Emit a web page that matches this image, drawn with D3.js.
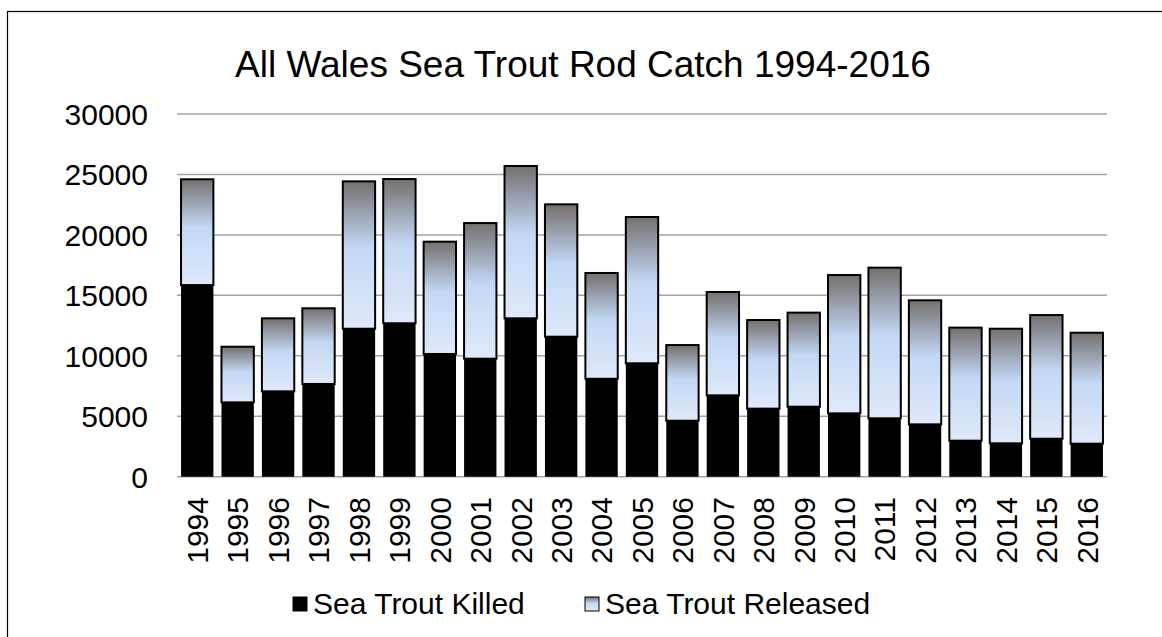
<!DOCTYPE html>
<html>
<head>
<meta charset="utf-8">
<script src="https://cdn.jsdelivr.net/npm/d3@7"></script>
<style>
  body { margin: 0; background: #fff; }
  text { font-family: "Liberation Sans", Arial, sans-serif; fill: #000; }
</style>
</head>
<body>
<div id="chart"></div>
<script>
// data
const years = ["1994","1995","1996","1997","1998","1999","2000","2001","2002","2003","2004","2005",
               "2006","2007","2008","2009","2010","2011","2012","2013","2014","2015","2016"];
const killed = [15850, 6150, 7060, 7670, 12240, 12690, 10150, 9760, 13100, 11580, 8100, 9380,
                4630, 6730, 5630, 5790, 5240, 4830, 4330, 2980, 2760, 3140, 2730];
const totals = [24600, 10750, 13100, 13930, 24430, 24620, 19440, 20980, 25700, 22530, 16850, 21480,
                10890, 15280, 12960, 13570, 16680, 17290, 14590, 12330, 12240, 13370, 11910];
const released = totals.map((t, i) => t - killed[i]);
const yTicks = [0, 5000, 10000, 15000, 20000, 25000, 30000];
const seriesNames = ["Sea Trout Killed", "Sea Trout Released"];

const width = 1162, height = 637;
const margin = {top: 114, right: 55, bottom: 160, left: 177};

const svg = d3.select("#chart").append("svg")
    .attr("width", width)
    .attr("height", height);

// gradient for the released series
let defs = svg.append("defs");
let grad = defs.append("linearGradient")
    .attr("id", "relGrad")
    .attr("x1", 0).attr("y1", 0).attr("x2", 0).attr("y2", 1);
grad.append("stop").attr("offset", "0%").attr("stop-color", "#747070");
grad.append("stop").attr("offset", "45%").attr("stop-color", "#c3d8f4");
grad.append("stop").attr("offset", "100%").attr("stop-color", "#dfe9f9");

// outer frame
svg.append("rect")
    .attr("x", 7.5).attr("y", 11.5)
    .attr("width", width + 20).attr("height", height + 20)
    .attr("fill", "none")
    .attr("stroke", "#000")
    .attr("stroke-width", 1.2);

let x = d3.scaleBand()
    .domain(years)
    .range([margin.left, width - margin.right])
    .paddingInner(0.2)
    .paddingOuter(0.1);

let y = d3.scaleLinear()
    .domain([0, 30000])
    .range([476.7, margin.top]);

// gridlines
svg.append("g").selectAll("line").data(yTicks).enter().append("line")
    .attr("x1", margin.left)
    .attr("x2", width - margin.right)
    .attr("y1", d => y(d))
    .attr("y2", d => y(d))
    .attr("stroke", "#a3a3a3")
    .attr("stroke-width", 1.5);

// y labels
svg.append("g").selectAll("text").data(yTicks).enter().append("text")
    .attr("x", 148)
    .attr("y", d => y(d))
    .attr("dy", "0.36em")
    .attr("text-anchor", "end")
    .style("font-size", "30px")
    .text(d => d);

// killed bars
svg.append("g").selectAll("rect").data(years).enter().append("rect")
    .attr("x", d => x(d))
    .attr("width", x.bandwidth())
    .attr("y", (d, i) => y(killed[i]))
    .attr("height", (d, i) => y(0) - y(killed[i]))
    .attr("fill", "#000");

// released bars
svg.append("g").selectAll("rect").data(years).enter().append("rect")
    .attr("x", d => x(d))
    .attr("width", x.bandwidth())
    .attr("y", (d, i) => y(totals[i]))
    .attr("height", (d, i) => y(killed[i]) - y(totals[i]))
    .attr("fill", "url(#relGrad)")
    .attr("stroke", "#000")
    .attr("stroke-width", 2);

// x labels
svg.append("g").selectAll("text").data(years).enter().append("text")
    .attr("transform", d => "translate(" + (x(d) + x.bandwidth() / 2) + ",497) rotate(-90)")
    .attr("dy", "0.36em")
    .attr("text-anchor", "end")
    .style("font-size", "30px")
    .text(d => d);

// title
svg.append("text")
    .attr("x", 583)
    .attr("y", 77)
    .attr("text-anchor", "middle")
    .style("font-size", "37px")
    .text("All Wales Sea Trout Rod Catch 1994-2016");

// legend
let legendX = [293, 585];
let legend = svg.append("g").selectAll("g").data(seriesNames).enter().append("g")
    .attr("transform", (d, i) => "translate(" + legendX[i] + ",0)");
legend.append("rect")
    .attr("x", 0).attr("y", 597)
    .attr("width", 14).attr("height", 14)
    .attr("fill", (d, i) => i == 0 ? "#000" : "url(#relGrad)")
    .attr("stroke", "#000")
    .attr("stroke-width", 1);
legend.append("text")
    .attr("x", 20)
    .attr("y", 614)
    .style("font-size", "30px")
    .text(d => d);
</script>
</body>
</html>
